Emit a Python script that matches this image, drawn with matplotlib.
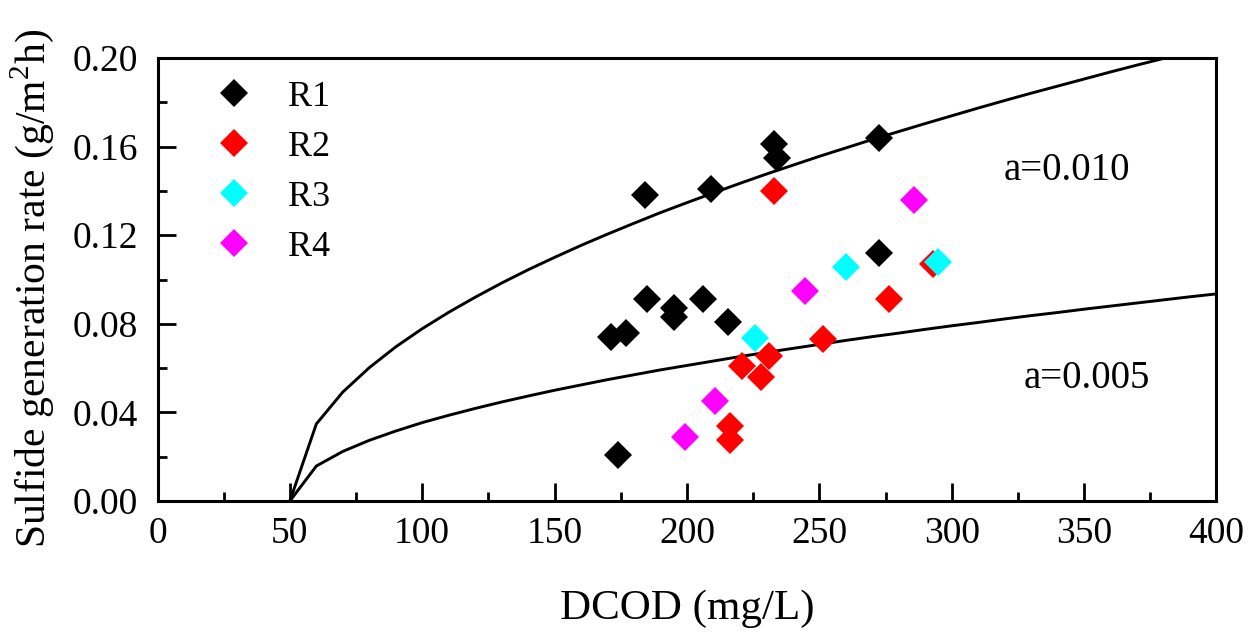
import matplotlib
matplotlib.use("Agg")
import matplotlib.pyplot as plt
from matplotlib.ticker import MultipleLocator

plt.rcParams['font.family'] = ['Liberation Serif', 'DejaVu Serif']
plt.rcParams['mathtext.fontset'] = 'custom'
plt.rcParams['mathtext.rm'] = 'Liberation Serif'

# Observed data
r1_x = [184, 209, 233, 234, 272.5, 272.5, 185, 195, 195, 206, 215.4, 171.2, 176.9, 174.1]
r1_y = [0.138, 0.141, 0.161, 0.155, 0.164, 0.112, 0.091, 0.087, 0.083, 0.091, 0.081, 0.074, 0.076, 0.021]
r2_x = [232.9, 276.4, 292.8, 251.3, 231.1, 220.7, 227.8, 216.3, 216.3]
r2_y = [0.140, 0.091, 0.107, 0.073, 0.0655, 0.061, 0.056, 0.034, 0.0275]
r3_x = [259.9, 225.7, 294.7]
r3_y = [0.1055, 0.0737, 0.108]
r4_x = [285.7, 244.6, 210.6, 199.2]
r4_y = [0.136, 0.095, 0.045, 0.029]

# Model curves
curve_x = [50, 60, 70, 80, 90, 100, 110, 120, 130, 140, 150, 160, 170, 180, 190, 200,
           210, 220, 230, 240, 250, 260, 270, 280, 290, 300, 310, 320, 330, 340, 350,
           360, 370, 380, 390, 400]
curve_a010 = [0, 0.0348, 0.0492, 0.0602, 0.0696, 0.0778, 0.0852, 0.0920, 0.0984, 0.1044,
              0.1100, 0.1154, 0.1205, 0.1254, 0.1302, 0.1347, 0.1391, 0.1434, 0.1476,
              0.1516, 0.1556, 0.1594, 0.1632, 0.1668, 0.1704, 0.1739, 0.1774, 0.1808,
              0.1841, 0.1873, 0.1905, 0.1937, 0.1968, 0.1998, 0.2028, 0.2058]
curve_a005 = [0, 0.0158, 0.0224, 0.0274, 0.0316, 0.0354, 0.0387, 0.0418, 0.0447, 0.0474,
              0.0500, 0.0524, 0.0548, 0.0570, 0.0592, 0.0612, 0.0632, 0.0652, 0.0671,
              0.0689, 0.0707, 0.0725, 0.0742, 0.0758, 0.0775, 0.0791, 0.0806, 0.0822,
              0.0837, 0.0851, 0.0866, 0.0880, 0.0894, 0.0908, 0.0922, 0.0935]

x_ticks = [0, 50, 100, 150, 200, 250, 300, 350, 400]
y_ticks = [0.00, 0.04, 0.08, 0.12, 0.16, 0.20]

fig = plt.figure(figsize=(12.55, 6.33), dpi=100)
ax = fig.add_axes([0.1255, 0.2085, 0.8438, 0.6999])

ax.plot(curve_x, curve_a010, color='black', lw=2.1, zorder=2)
ax.plot(curve_x, curve_a005, color='black', lw=2.1, zorder=2)

ms = 14
ax.plot(r1_x, r1_y, 'D', color='black', ms=ms, mew=0, label='R1', zorder=3)
ax.plot(r2_x, r2_y, 'D', color='#ff0000', ms=ms, mew=0, label='R2', zorder=3)
ax.plot(r3_x, r3_y, 'D', color='#00ffff', ms=ms, mew=0, label='R3', zorder=3)
ax.plot(r4_x, r4_y, 'D', color='#ff00ff', ms=ms, mew=0, label='R4', zorder=3)

ax.text(319.5, 0.1494, 'a=0.010', fontsize=28, va='center', ha='left')
ax.text(327, 0.0555, 'a=0.005', fontsize=28, va='center', ha='left')

ax.set_xlim(0, 400)
ax.set_ylim(0, 0.20)
ax.set_xticks(x_ticks)
ax.set_yticks(y_ticks)
ax.set_yticklabels([f'{v:.2f}' for v in y_ticks])
ax.xaxis.set_minor_locator(MultipleLocator(25))
ax.yaxis.set_minor_locator(MultipleLocator(0.02))
ax.tick_params(which='major', direction='in', length=13, width=2, labelsize=27)
ax.tick_params(axis='x', which='major', pad=11)
ax.tick_params(axis='y', which='major', pad=14)
ax.tick_params(which='minor', direction='in', length=6.5, width=2)
for s in ax.spines.values():
    s.set_linewidth(2.2)

ax.set_xlabel('DCOD (mg/L)', fontsize=31)
ax.set_ylabel('Sulfide generation rate (g/m$^2$h)', fontsize=30)
ax.xaxis.set_label_coords(0.5, -0.2)
ax.yaxis.set_label_coords(-0.0958, 0.48)

ax.legend(loc='upper left', bbox_to_anchor=(0.0552, 0.949), frameon=False, fontsize=26,
          handletextpad=1.0, labelspacing=0.46, borderaxespad=0, borderpad=0,
          handlelength=1.0)

fig.savefig('out.png', dpi=100)
